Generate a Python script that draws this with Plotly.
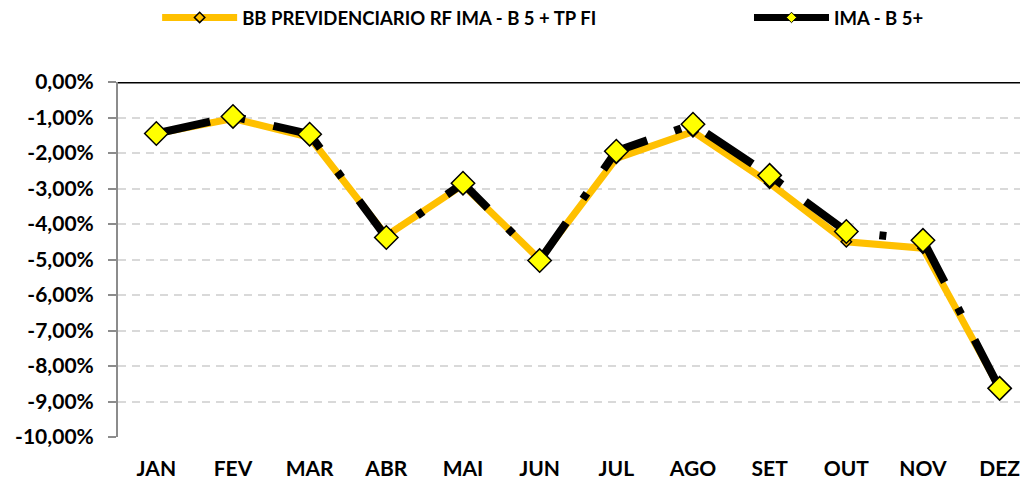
import plotly.graph_objects as go

months = ["JAN", "FEV", "MAR", "ABR", "MAI", "JUN", "JUL", "AGO", "SET", "OUT", "NOV", "DEZ"]
bb_fund = [-1.45, -1.03, -1.56, -4.33, -2.90, -5.00, -2.15, -1.40, -2.85, -4.50, -4.68, -8.63]
ima_b5 = [-1.45, -0.97, -1.47, -4.38, -2.85, -5.03, -1.95, -1.19, -2.63, -4.21, -4.46, -8.63]
y_ticks = [0, -1, -2, -3, -4, -5, -6, -7, -8, -9, -10]
y_tick_labels = ["0,00%", "-1,00%", "-2,00%", "-3,00%", "-4,00%", "-5,00%",
                 "-6,00%", "-7,00%", "-8,00%", "-9,00%", "-10,00%"]
name_bb = "BB PREVIDENCIARIO RF IMA - B 5 + TP FI"
name_ima = "IMA - B 5+"

FONT = "Lato"
ORANGE = "#FFC000"
YELLOW = "#FFFF00"

fig = go.Figure()
fig.add_trace(go.Scatter(
    x=months, y=bb_fund, mode="lines+markers", name=name_bb, showlegend=False,
    line=dict(color=ORANGE, width=7),
    marker=dict(symbol="diamond", size=8, color=ORANGE, line=dict(color="black", width=1.5)),
))
fig.add_trace(go.Scatter(
    x=months, y=ima_b5, mode="lines+markers", name=name_ima, showlegend=False,
    line=dict(color="black", width=8, dash="55px,29px,7px,29px"),
    marker=dict(symbol="diamond", size=18, color=YELLOW, line=dict(color="black", width=1.5)),
))
# legend-only entries
fig.add_trace(go.Scatter(
    x=[None], y=[None], mode="lines+markers", name=name_bb, legend="legend",
    line=dict(color=ORANGE, width=7),
    marker=dict(symbol="diamond", size=8, color=ORANGE, line=dict(color="black", width=1.5)),
))
fig.add_trace(go.Scatter(
    x=[None], y=[None], mode="lines+markers", name=name_ima, legend="legend2",
    line=dict(color="black", width=7),
    marker=dict(symbol="diamond", size=8, color=YELLOW, line=dict(color="black", width=1)),
))

legend_font = dict(family=FONT, size=18.5, color="black", weight="bold")
# page body has an 8px default margin, so the figure is sized 8px smaller
fig.update_layout(
    width=1020, height=472, autosize=False,
    margin=dict(l=110, r=0, t=74, b=43, autoexpand=False),
    paper_bgcolor="white", plot_bgcolor="white",
    font=dict(family=FONT, color="black"),
    legend=dict(orientation="h", x=0.043, xanchor="left", y=1.234, yanchor="top",
                itemwidth=75, font=legend_font, bgcolor="rgba(0,0,0,0)"),
    legend2=dict(orientation="h", x=0.6934, xanchor="left", y=1.234, yanchor="top",
                 itemwidth=75, font=legend_font, bgcolor="rgba(0,0,0,0)"),
    xaxis=dict(
        type="category", range=[-0.5, 11.37], automargin=False,
        showgrid=False, zeroline=False, showline=False, ticks="",
        ticklabelstandoff=17,
        tickfont=dict(family=FONT, size=21, color="black", weight="bold"),
    ),
    yaxis=dict(
        range=[-10, 0], tickvals=y_ticks, ticktext=y_tick_labels, automargin=False,
        showgrid=True, gridcolor="#D9D9D9", gridwidth=2, griddash="8px,6px",
        zeroline=False, showline=True, linecolor="#8C8C8C", linewidth=2,
        ticks="outside", ticklen=8, tickcolor="#8C8C8C", tickwidth=2,
        ticklabelstandoff=10,
        tickfont=dict(family=FONT, size=21, color="black", weight="bold"),
    ),
    shapes=[dict(type="line", xref="paper", x0=0, x1=1, yref="y", y0=0, y1=0,
                 line=dict(color="black", width=3), layer="above")],
)

fig.write_html("out.html")
